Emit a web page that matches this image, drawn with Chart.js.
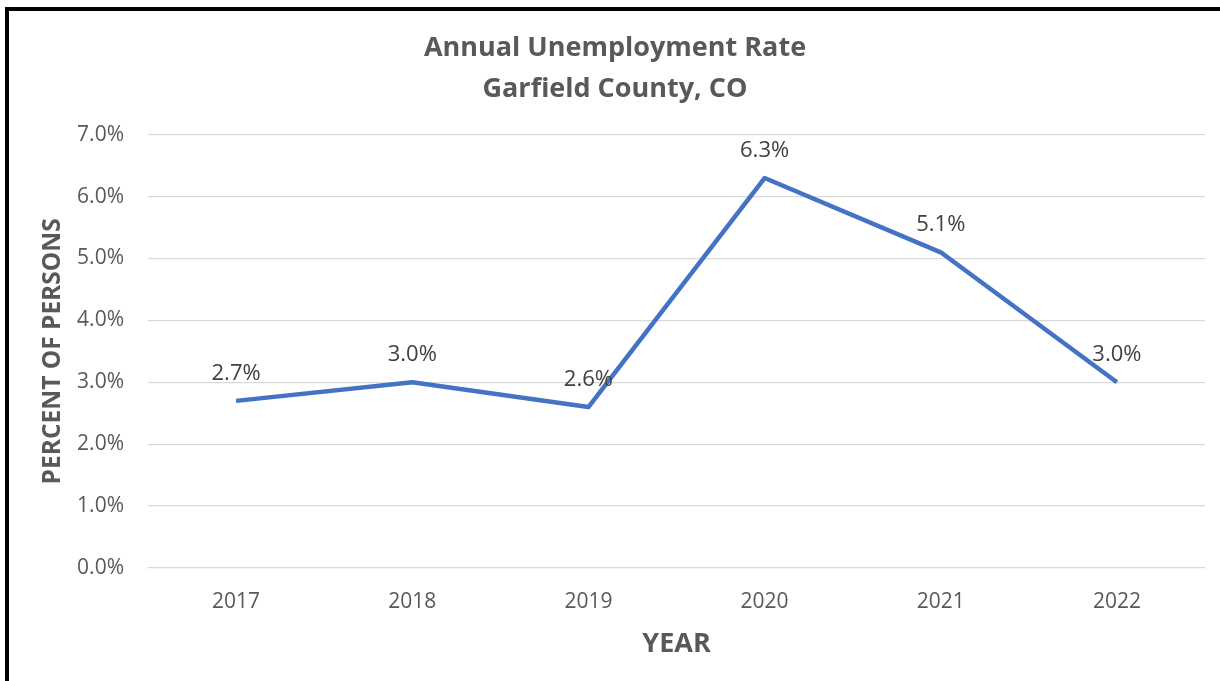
<!DOCTYPE html>
<html>
<head>
<meta charset="utf-8">
<title>Annual Unemployment Rate - Garfield County, CO</title>
<script src="https://cdn.jsdelivr.net/npm/chart.js@4.4.1/dist/chart.umd.min.js"></script>
<style>
  html, body { margin: 0; padding: 0; background: #ffffff; }
  #wrap { position: relative; width: 1220px; height: 681px; overflow: hidden; }
  #chart { position: absolute; left: 0; top: 0; }
  #frame {
    position: absolute; left: 5px; top: 7px; width: 1215px; height: 674px;
    box-sizing: border-box; border-top: 4px solid #000; border-left: 4px solid #000;
    pointer-events: none;
  }
</style>
</head>
<body>
<div id="wrap">
  <canvas id="chart" width="1220" height="681"></canvas>
  <div id="frame"></div>
</div>
<script>
// Annual unemployment rate, percent of persons
const years = ['2017', '2018', '2019', '2020', '2021', '2022'];
const unemploymentRate = [2.7, 3.0, 2.6, 6.3, 5.1, 3.0];
const yTicks = [0, 1, 2, 3, 4, 5, 6, 7];

const titleLines = ['Annual Unemployment Rate', 'Garfield County, CO'];
const yAxisTitle = 'PERCENT OF PERSONS';
const xAxisTitle = 'YEAR';

Chart.defaults.font.family = "'Open Sans', 'Noto Sans', sans-serif";
Chart.defaults.color = '#595959';

// Value labels centred above each point
const pointLabels = {
  id: 'pointLabels',
  afterDatasetsDraw(chart) {
    const ctx = chart.ctx;
    chart.data.datasets.forEach((ds, i) => {
      const meta = chart.getDatasetMeta(i);
      meta.data.forEach((pt, j) => {
        ctx.save();
        ctx.font = "22px 'Open Sans', sans-serif";
        ctx.fillStyle = '#404040';
        ctx.textAlign = 'center';
        ctx.textBaseline = 'alphabetic';
        ctx.fillText(ds.data[j].toFixed(1) + '%', pt.x, pt.y - 21);
        ctx.restore();
      });
    });
  }
};

new Chart(document.getElementById('chart'), {
  type: 'line',
  data: {
    labels: years,
    datasets: [{
      data: unemploymentRate,
      borderColor: '#4472C4',
      backgroundColor: '#4472C4',
      borderWidth: 4.5,
      borderJoinStyle: 'round',
      borderCapStyle: 'butt',
      pointRadius: 0,
      pointHoverRadius: 0,
      tension: 0,
      fill: false
    }]
  },
  options: {
    responsive: false,
    animation: false,
    devicePixelRatio: 1,
    layout: { padding: { left: 25, right: 15, top: 0, bottom: 0 } },
    plugins: {
      legend: { display: false },
      tooltip: { enabled: false },
      title: {
        display: true,
        text: titleLines,
        color: '#595959',
        font: { size: 27, weight: 'bold', lineHeight: 1.55 },
        padding: { top: 27, bottom: 24 }
      }
    },
    scales: {
      x: {
        type: 'category',
        offset: true,
        grid: { display: false, drawTicks: false },
        border: { display: false },
        ticks: { color: '#595959', font: { size: 21 }, padding: 21, maxRotation: 0 },
        title: {
          display: true,
          text: xAxisTitle,
          color: '#595959',
          font: { size: 27, weight: 'bold', lineHeight: 1.2 },
          padding: { top: 0, bottom: 20 }
        },
        afterFit(scale) { scale.height = 113; }
      },
      y: {
        min: 0,
        max: 7,
        afterBuildTicks(scale) { scale.ticks = yTicks.map(v => ({ value: v })); },
        grid: { color: '#d9d9d9', lineWidth: 1.3, drawTicks: false },
        border: { display: false },
        ticks: {
          color: '#595959',
          font: { size: 21 },
          padding: 24,
          callback: v => Number(v).toFixed(1) + '%'
        },
        title: {
          display: true,
          text: yAxisTitle,
          color: '#595959',
          font: { size: 24.5, weight: 'bold', lineHeight: 1.2 },
          padding: { top: 13, bottom: 0 }
        },
        afterFit(scale) { scale.width = 123; }
      }
    }
  },
  plugins: [pointLabels]
});
</script>
</body>
</html>
